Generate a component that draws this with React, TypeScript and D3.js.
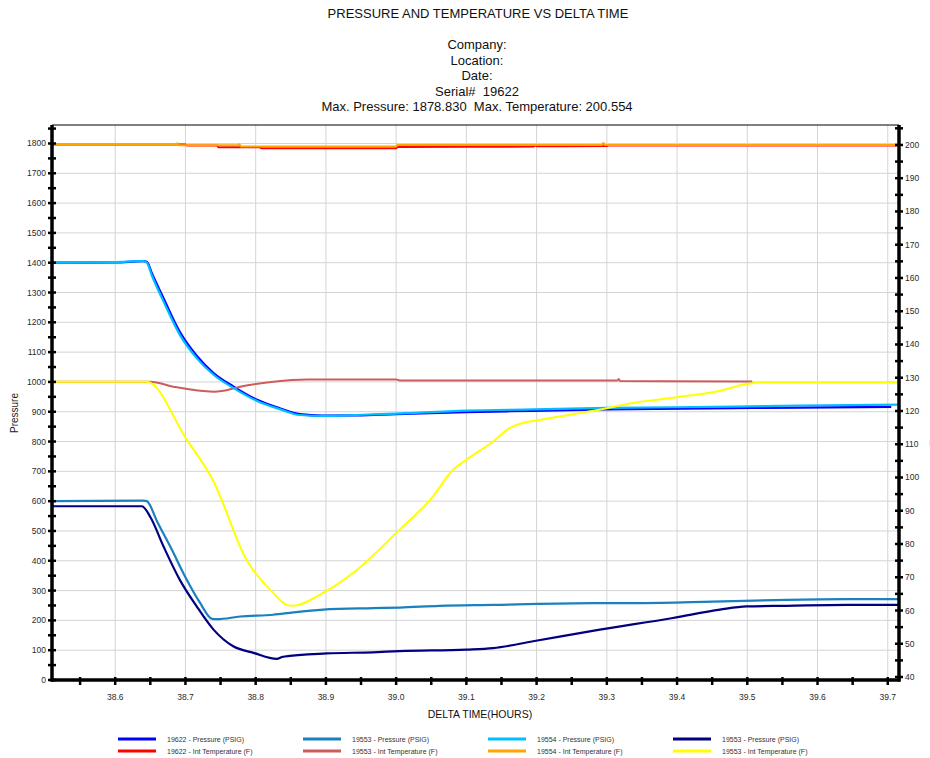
import React from "react";
import * as d3 from "d3";

const W = 930;
const H = 758;
const FONT = "Arial, 'Liberation Sans', Helvetica, sans-serif";

const titleText = "PRESSURE AND TEMPERATURE VS DELTA TIME";
const subtitleLines = [
  "Company:",
  "Location:",
  "Date:",
  "Serial#  19622",
  "Max. Pressure: 1878.830  Max. Temperature: 200.554",
];

const xTickValues = [38.6, 38.7, 38.8, 38.9, 39.0, 39.1, 39.2, 39.3, 39.4, 39.5, 39.6, 39.7];
const xMinorValues = [38.55, 38.65, 38.75, 38.85, 38.95, 39.05, 39.15, 39.25, 39.35, 39.45, 39.55, 39.65];
const leftTickValues = [0, 100, 200, 300, 400, 500, 600, 700, 800, 900, 1000, 1100, 1200, 1300, 1400, 1500, 1600, 1700, 1800];
const leftMinorValues = [50, 150, 250, 350, 450, 550, 650, 750, 850, 950, 1050, 1150, 1250, 1350, 1450, 1550, 1650, 1750, 1850];
const rightTickValues = [40, 50, 60, 70, 80, 90, 100, 110, 120, 130, 140, 150, 160, 170, 180, 190, 200];
const rightMinorValues = [45, 55, 65, 75, 85, 95, 105, 115, 125, 135, 145, 155, 165, 175, 185, 195, 205];

// [delta time (hours), value]
const p19622: [number, number][] = [
  [38.51, 1400], [38.6, 1401], [38.64, 1405], [38.645, 1403], [38.652, 1366], [38.669, 1280],
  [38.692, 1168], [38.716, 1088], [38.74, 1030], [38.768, 985], [38.802, 940], [38.835, 911],
  [38.863, 892], [38.896, 887], [38.944, 888], [39.0, 892], [39.1, 899], [39.195, 903],
  [39.3, 908], [39.479, 912], [39.574, 914], [39.705, 916],
];
const t19622: [number, number][] = [
  [38.51, 200.1], [38.7, 200.1], [38.702, 199.8], [38.745, 199.8], [38.747, 199.3], [38.806, 199.3],
  [38.808, 199.0], [39.0, 199.0], [39.002, 199.4], [39.196, 199.5], [39.198, 200.0], [39.2, 199.6],
  [39.3, 199.7], [39.302, 199.8], [39.716, 199.8],
];
const p19553a: [number, number][] = [
  [38.51, 600], [38.64, 602], [38.645, 600], [38.66, 530], [38.68, 440], [38.7, 345],
  [38.72, 262], [38.738, 205], [38.745, 204], [38.778, 213], [38.825, 219], [38.854, 227],
  [38.896, 236], [38.967, 241], [39.005, 243], [39.062, 249], [39.138, 252], [39.28, 258],
  [39.347, 258], [39.451, 263], [39.556, 269], [39.641, 271], [39.716, 271],
];
const t19553a: [number, number][] = [
  [38.51, 128.8], [38.65, 128.8], [38.683, 127.3], [38.74, 125.8], [38.754, 126.1], [38.778, 127.3],
  [38.825, 128.8], [38.873, 129.5], [39.0, 129.5], [39.005, 129.2], [39.315, 129.2], [39.317, 129.6],
  [39.319, 129.0], [39.507, 128.9],
];
const p19554: [number, number][] = [
  [38.51, 1400], [38.6, 1402], [38.64, 1405], [38.645, 1400], [38.652, 1358], [38.669, 1269],
  [38.692, 1158], [38.716, 1080], [38.74, 1024], [38.768, 980], [38.802, 936], [38.835, 908],
  [38.863, 889], [38.896, 886], [38.944, 889], [39.0, 894], [39.1, 904], [39.195, 908],
  [39.3, 913], [39.479, 917], [39.574, 921], [39.716, 924],
];
const t19554: [number, number][] = [
  [38.51, 200.3], [38.687, 200.3], [38.689, 200.5], [38.69, 199.9], [38.775, 199.9], [38.777, 200.2],
  [38.779, 199.5], [39.0, 199.5], [39.002, 200.0], [39.293, 200.0], [39.295, 200.55], [39.297, 200.0],
  [39.716, 200.0],
];
const p19553b: [number, number][] = [
  [38.51, 583], [38.638, 583], [38.65, 547], [38.669, 447], [38.692, 336], [38.716, 247],
  [38.74, 169], [38.768, 113], [38.797, 91], [38.83, 71], [38.839, 78], [38.901, 89],
  [38.967, 93], [39.005, 97], [39.1, 102], [39.138, 107], [39.195, 130], [39.29, 169],
  [39.394, 208], [39.461, 236], [39.499, 247], [39.556, 249], [39.641, 252], [39.716, 252],
];
const t19553b: [number, number][] = [
  [38.51, 128.8], [38.645, 128.8], [38.702, 111.3], [38.739, 99.25], [38.787, 75.2], [38.825, 65.3],
  [38.844, 61.7], [38.853, 61.4], [38.896, 65.3], [38.944, 72.2], [39.0, 83.3], [39.052, 94.2],
  [39.081, 102.3], [39.1, 105.3], [39.138, 110.8], [39.162, 114.9], [39.18, 116.4], [39.195, 117.0],
  [39.3, 120.8], [39.337, 122.4], [39.399, 124.1], [39.461, 126.1], [39.499, 128.1], [39.518, 128.6],
  [39.716, 128.6],
];

const seriesNames = [
  "19622 - Pressure (PSIG)", "19622 - Int Temperature (F)",
  "19553 - Pressure (PSIG)", "19553 - Int Temperature (F)",
  "19554 - Pressure (PSIG)", "19554 - Int Temperature (F)",
  "19553 - Pressure (PSIG)", "19553 - Int Temperature (F)",
];
const seriesColors = ["#0000FF", "#FF0000", "#1A80BE", "#CD5C5C", "#00BFFF", "#FFA500", "#000080", "#FFFF00"];
const seriesData = [p19622, t19622, p19553a, t19553a, p19554, t19554, p19553b, t19553b];
const seriesAxis = ["L", "R", "L", "R", "L", "R", "L", "R"];

export default function App() {
  const left = 52, right = 899, top = 125, bottom = 680;
  const x = d3.scaleLinear().domain([38.51, 39.716]).range([left, right]);
  const yL = d3.scaleLinear().domain([0, 1862]).range([bottom, top]);
  const yR = d3.scaleLinear().domain([39.1, 206]).range([bottom, top]);

  const lineFor = (axis: string) =>
    d3.line<[number, number]>()
      .x((d) => x(d[0]))
      .y((d) => (axis === "L" ? yL(d[1]) : yR(d[1])))
      .curve(d3.curveMonotoneX);

  const tickColor = "#000";
  const labelColor = "#2a2a2a";
  const pre: React.CSSProperties = { whiteSpace: "pre" };

  return (
    <svg
      width={W}
      height={H}
      style={{ position: "absolute", left: 0, top: 0, display: "block", background: "#fff" }}
      fontFamily={FONT}
    >
      <rect x={0} y={0} width={W} height={H} fill="#fff" />
      {/* title */}
      <text x={478} y={18} textAnchor="middle" fontSize={13} fill="#111">{titleText}</text>
      {subtitleLines.map((s, i) => (
        <text key={i} x={477} y={49 + i * 15.6} textAnchor="middle" fontSize={13} fill="#111" style={pre} xmlSpace="preserve">{s}</text>
      ))}

      {/* grid */}
      {xTickValues.map((v) => (
        <line key={"gx" + v} x1={x(v)} x2={x(v)} y1={top} y2={bottom} stroke="#d4d4d4" strokeWidth={1} />
      ))}
      {leftTickValues.map((v) => (
        <line key={"gy" + v} x1={left} x2={right} y1={yL(v)} y2={yL(v)} stroke="#d4d4d4" strokeWidth={1} />
      ))}
      <line x1={left} x2={right} y1={top} y2={top} stroke="#000" strokeWidth={1} />

      {/* series */}
      {seriesData.map((d, i) => (
        <path
          key={"s" + i}
          d={lineFor(seriesAxis[i])(d) || ""}
          fill="none"
          stroke={seriesColors[i]}
          strokeWidth={seriesAxis[i] === "L" ? 2.2 : 2}
          strokeLinejoin="round"
        />
      ))}

      {/* axes */}
      <line x1={left} x2={left} y1={top} y2={bottom + 1.5} stroke="#000" strokeWidth={3.5} />
      <line x1={right} x2={right} y1={top} y2={bottom + 1.5} stroke="#000" strokeWidth={3.5} />
      <line x1={left - 1.5} x2={right + 1.5} y1={bottom} y2={bottom} stroke="#000" strokeWidth={3.5} />

      {[...leftTickValues, ...leftMinorValues].map((v) => (
        <line key={"lt" + v} x1={left - 4} x2={left + 4} y1={yL(v)} y2={yL(v)} stroke={tickColor} strokeWidth={2.5} />
      ))}
      {[...rightTickValues, ...rightMinorValues].map((v) => (
        <line key={"rt" + v} x1={right - 4} x2={right + 4} y1={yR(v)} y2={yR(v)} stroke={tickColor} strokeWidth={2.5} />
      ))}
      {[...xTickValues, ...xMinorValues].map((v) => (
        <line key={"xt" + v} x1={x(v)} x2={x(v)} y1={bottom - 3} y2={bottom + 5} stroke={tickColor} strokeWidth={2.5} />
      ))}

      {leftTickValues.map((v) => (
        <text key={"ll" + v} x={left - 6} y={yL(v) + 3} textAnchor="end" fontSize={8.5} fill={labelColor}>{v}</text>
      ))}
      {rightTickValues.map((v) => (
        <text key={"rl" + v} x={right + 6} y={yR(v) + 3} textAnchor="start" fontSize={8.5} fill={labelColor}>{v}</text>
      ))}
      {xTickValues.map((v) => (
        <text key={"xl" + v} x={x(v)} y={700} textAnchor="middle" fontSize={8.5} fill={labelColor}>{v.toFixed(1)}</text>
      ))}

      <text x={480} y={718} textAnchor="middle" fontSize={10.5} fill="#111">DELTA TIME(HOURS)</text>
      <text transform="translate(18,413) rotate(-90)" textAnchor="middle" fontSize={10} fill="#222">Pressure</text>
      <text transform="translate(937.5,418) rotate(-90)" textAnchor="middle" fontSize={10} fill="#222">Temperature</text>

      {/* legend */}
      {seriesNames.map((name, i) => {
        const col = Math.floor(i / 2);
        const row = i % 2;
        const lx = 118 + col * 185;
        const ly = 739 + row * 12;
        return (
          <g key={"lg" + i}>
            <line x1={lx} x2={lx + 38} y1={ly} y2={ly} stroke={seriesColors[i]} strokeWidth={3} />
            <text x={lx + 49} y={ly + 2.5} fontSize={7} fill="#333">{name}</text>
          </g>
        );
      })}
    </svg>
  );
}
